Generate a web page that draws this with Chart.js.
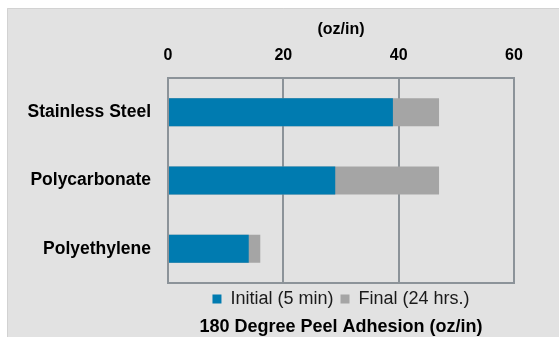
<!DOCTYPE html>
<html>
<head>
<meta charset="utf-8">
<script src="https://cdn.jsdelivr.net/npm/chart.js@4"></script>
<style>
  html, body { margin: 0; padding: 0; background: #ffffff; }
  #wrap { width: 559px; height: 337px; position: relative; }
</style>
</head>
<body>
<div id="wrap"><canvas id="chart" width="559" height="337"></canvas></div>
<script>
// Peel adhesion by substrate, oz/in
const categories = ['Stainless Steel', 'Polycarbonate', 'Polyethylene'];
const initialValues = [39, 29, 14];   // Initial (5 min)
const finalValues = [47, 47, 16];     // Final (24 hrs.)
const seriesNames = ['Initial (5 min)', 'Final (24 hrs.)'];
const xTicks = [0, 20, 40, 60];

const FONT = '"Liberation Sans", Arial, sans-serif';
const LINE = '#8c9399';

// light grey panel behind the chart
const panel = {
  id: 'panel',
  beforeDraw(chart) {
    const ctx = chart.ctx;
    ctx.save();
    ctx.fillStyle = '#e2e2e2';
    ctx.fillRect(7, 8, chart.width - 7, chart.height - 8);
    ctx.strokeStyle = '#d2d2d2';
    ctx.lineWidth = 1;
    ctx.beginPath();
    ctx.moveTo(7.5, chart.height);
    ctx.lineTo(7.5, 8.5);
    ctx.lineTo(chart.width, 8.5);
    ctx.stroke();
    ctx.restore();
  }
};

// outline around the plot area
const frame = {
  id: 'frame',
  beforeDatasetsDraw(chart) {
    const a = chart.chartArea;
    const ctx = chart.ctx;
    ctx.save();
    ctx.strokeStyle = LINE;
    ctx.lineWidth = 2;
    ctx.strokeRect(a.left, a.top, a.right - a.left, a.bottom - a.top);
    ctx.restore();
  }
};

new Chart(document.getElementById('chart'), {
  type: 'bar',
  data: {
    labels: categories,
    datasets: [
      { label: seriesNames[0], data: initialValues, backgroundColor: '#007bb0' },
      { label: seriesNames[1], data: finalValues, backgroundColor: '#a5a5a5' }
    ]
  },
  options: {
    indexAxis: 'y',
    responsive: false,
    animation: false,
    datasets: { bar: { grouped: false, categoryPercentage: 1, barPercentage: 0.41 } },
    layout: { padding: { left: 7, right: 45, top: 0, bottom: 0 } },
    scales: {
      x: {
        position: 'top',
        min: 0,
        max: 60,
        afterBuildTicks(scale) { scale.ticks = xTicks.map(v => ({ value: v })); },
        afterFit(scale) { scale.height = 78; },
        grid: { color: LINE, lineWidth: 2, drawTicks: false },
        border: { display: true, color: LINE, width: 2 },
        ticks: {
          padding: 13,
          color: '#000',
          font: { family: FONT, size: 16, weight: 'bold' }
        },
        title: {
          display: true,
          text: '(oz/in)',
          color: '#000',
          padding: { top: 20, bottom: 0 },
          font: { family: FONT, size: 16, weight: 'bold' }
        }
      },
      y: {
        afterFit(scale) { scale.width = 161; },
        grid: { display: false, drawTicks: false },
        border: { display: false },
        ticks: {
          padding: 17,
          color: '#000',
          font: { family: FONT, size: 17.5, weight: 'bold' }
        }
      }
    },
    plugins: {
      legend: {
        position: 'bottom',
        fullSize: false,
        labels: {
          boxWidth: 9,
          boxHeight: 9,
          padding: 7,
          color: '#1a1a1a',
          font: { family: FONT, size: 18 }
        }
      },
      title: {
        display: true,
        position: 'bottom',
        fullSize: false,
        text: '180 Degree Peel Adhesion (oz/in)',
        color: '#000',
        padding: { top: 0, bottom: 1 },
        font: { family: FONT, size: 18, weight: 'bold', lineHeight: 1 }
      },
      tooltip: { enabled: false }
    }
  },
  plugins: [panel, frame]
});
</script>
</body>
</html>
